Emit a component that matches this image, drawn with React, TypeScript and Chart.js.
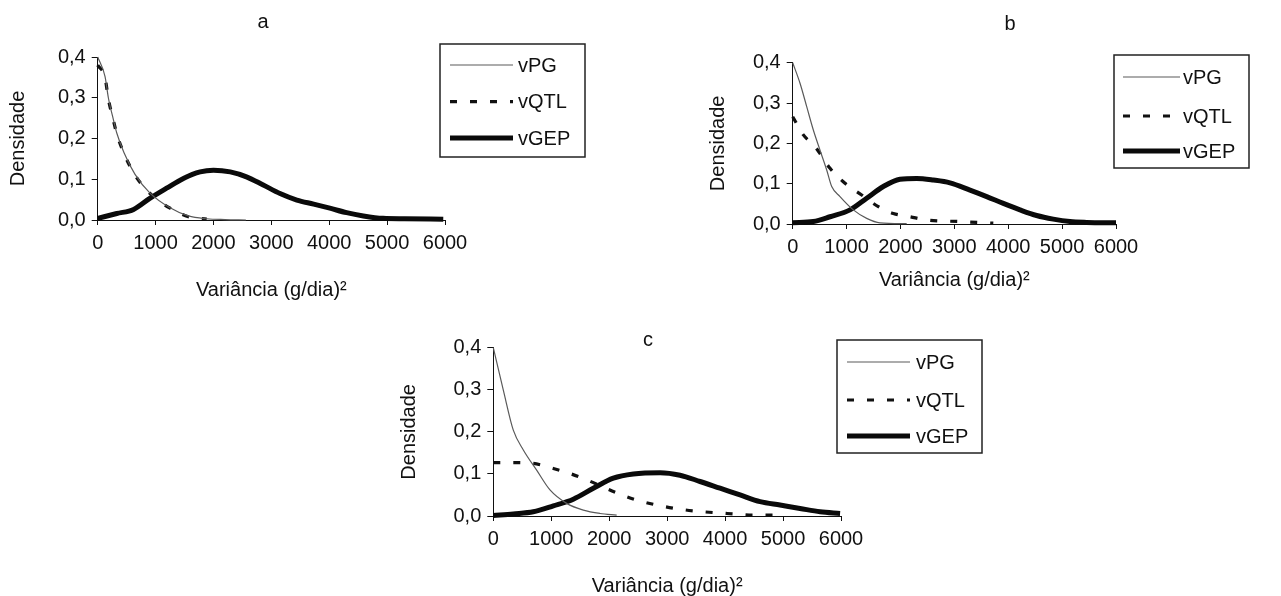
import { useEffect, useRef } from "react";
import { Chart, registerables } from "chart.js";

Chart.register(...registerables);

const FONT = "'Liberation Sans', Arial, Helvetica, sans-serif";

// ---------- texts ----------
const SERIES_LABELS = ["vPG", "vQTL", "vGEP"];
const X_TICK_LABELS = ["0", "1000", "2000", "3000", "4000", "5000", "6000"];
const Y_TICK_LABELS = ["0,0", "0,1", "0,2", "0,3", "0,4"];
const PANEL_LETTERS = ["a", "b", "c"];
const X_TITLE = "Variância (g/dia)²";
const Y_TITLE = "Densidade";

// ---------- panel a ----------
const A_PG_X = [0, 127, 184, 270, 328, 455, 645, 904, 1250, 1566, 1883, 2200, 2560];
const A_PG_Y = [0.4, 0.352, 0.3, 0.247, 0.214, 0.165, 0.112, 0.066, 0.03, 0.01, 0.003, 0.001, 0.0];
const A_QTL_X = [0, 127, 184, 270, 328, 455, 645, 904, 1250, 1566, 1883];
const A_QTL_Y = [0.38, 0.349, 0.297, 0.245, 0.212, 0.163, 0.11, 0.065, 0.029, 0.008, 0.002];
const A_GEP_X = [0, 330, 620, 900, 1190, 1480, 1770, 2000, 2290, 2570, 2860, 3150, 3440, 3730, 4010, 4300, 4590, 4930, 5300, 5970];
const A_GEP_Y = [0.004, 0.016, 0.026, 0.053, 0.078, 0.102, 0.118, 0.122, 0.118, 0.106, 0.086, 0.065, 0.049, 0.039, 0.029, 0.018, 0.01, 0.004, 0.003, 0.002];

// ---------- panel b ----------
const B_PG_X = [0, 136, 260, 383, 507, 631, 724, 878, 1125, 1373, 1620, 2115];
const B_PG_Y = [0.4, 0.349, 0.291, 0.233, 0.183, 0.134, 0.093, 0.068, 0.035, 0.014, 0.003, 0.001];
const B_QTL_X = [0, 198, 414, 693, 971, 1280, 1589, 1868, 2177, 2486, 3105, 3723];
const B_QTL_Y = [0.266, 0.221, 0.192, 0.138, 0.101, 0.072, 0.043, 0.026, 0.018, 0.01, 0.006, 0.002];
const B_GEP_X = [0, 383, 693, 1064, 1373, 1682, 1991, 2300, 2610, 2919, 3290, 3600, 3909, 4218, 4527, 4836, 5145, 5455, 6000];
const B_GEP_Y = [0.003, 0.006, 0.018, 0.035, 0.064, 0.093, 0.111, 0.113, 0.109, 0.102, 0.084, 0.068, 0.051, 0.035, 0.021, 0.012, 0.006, 0.004, 0.003];

// ---------- panel c ----------
const C_PG_X = [0, 173, 345, 518, 748, 978, 1266, 1553, 1841, 2129];
const C_PG_Y = [0.4, 0.299, 0.204, 0.157, 0.109, 0.062, 0.03, 0.014, 0.006, 0.002];
const C_QTL_X = [0, 345, 690, 1036, 1323, 1611, 2129, 2474, 2820, 3222, 3625, 4028, 4488, 4948];
const C_QTL_Y = [0.127, 0.127, 0.125, 0.113, 0.101, 0.086, 0.055, 0.038, 0.026, 0.016, 0.01, 0.006, 0.002, 0.002];
const C_GEP_X = [0, 345, 690, 1036, 1381, 1726, 2071, 2417, 2877, 3222, 3567, 3912, 4258, 4603, 4948, 5293, 5639, 5984];
const C_GEP_Y = [0.001, 0.005, 0.01, 0.024, 0.04, 0.066, 0.09, 0.1, 0.103, 0.097, 0.082, 0.066, 0.05, 0.034, 0.026, 0.018, 0.01, 0.006];

const PANEL_SERIES = [
  [[A_PG_X, A_PG_Y], [A_QTL_X, A_QTL_Y], [A_GEP_X, A_GEP_Y]],
  [[B_PG_X, B_PG_Y], [B_QTL_X, B_QTL_Y], [B_GEP_X, B_GEP_Y]],
  [[C_PG_X, C_PG_Y], [C_QTL_X, C_QTL_Y], [C_GEP_X, C_GEP_Y]],
];

// ---------- styles ----------
const SERIES_STYLES = [
  { color: "#5a5a5a", width: 1.2, dash: [] as number[] },
  { color: "#111111", width: 3.2, dash: [7, 13] },
  { color: "#0a0a0a", width: 5, dash: [] as number[] },
];

// ---------- layout (page pixels) ----------
const LAYOUTS = [
  {
    canvas: { x: 0, y: 0, w: 640, h: 320 },
    area: { l: 97.7, t: 57, r: 445, b: 220 },
    yTitleX: 18.3, xTitleY: 290,
    letter: { x: 263, y: 22 },
    box: { x: 440, y: 44, w: 145, h: 113 }, rows: [21, 57.7, 94], lineStart: 10, lineEnd: 73, textX: 78,
  },
  {
    canvas: { x: 640, y: 0, w: 641, h: 320 },
    area: { l: 792.7, t: 62.7, r: 1116, b: 224 },
    yTitleX: 718, xTitleY: 280,
    letter: { x: 1010, y: 24 },
    box: { x: 1114, y: 55, w: 135, h: 113 }, rows: [22, 61, 96], lineStart: 9, lineEnd: 66, textX: 69,
  },
  {
    canvas: { x: 300, y: 320, w: 720, h: 280 },
    area: { l: 493.3, t: 347.7, r: 841, b: 516 },
    yTitleX: 409, xTitleY: 586.7,
    letter: { x: 648, y: 340 },
    box: { x: 837, y: 340, w: 145, h: 113 }, rows: [22, 60, 96], lineStart: 10, lineEnd: 73, textX: 79,
  },
];

type Layout = (typeof LAYOUTS)[number];

function Panel({ index }: { index: number }) {
  const ref = useRef<HTMLCanvasElement | null>(null);
  const L: Layout = LAYOUTS[index];

  useEffect(() => {
    if (!ref.current) return;
    const cx = L.canvas.x;
    const cy = L.canvas.y;
    const lineH = 24;
    const xAxisH = L.xTitleY - L.area.b + lineH / 2;
    const yAxisW = L.area.l - cx;

    const datasets = PANEL_SERIES[index].map(([xs, ys], i) => ({
      label: SERIES_LABELS[i],
      data: xs.map((x, k) => ({ x, y: ys[k] })),
      borderColor: SERIES_STYLES[i].color,
      borderWidth: SERIES_STYLES[i].width,
      borderDash: SERIES_STYLES[i].dash,
      pointRadius: 0,
      fill: false,
      cubicInterpolationMode: "monotone" as const,
      clip: 8,
      borderCapStyle: "butt" as const,
    }));

    const decor = {
      id: "panelDecor",
      afterDraw(chart: Chart) {
        const ctx = chart.ctx;
        ctx.save();
        ctx.font = `20px ${FONT}`;
        ctx.fillStyle = "#111";
        ctx.textAlign = "center";
        ctx.textBaseline = "middle";
        ctx.fillText(PANEL_LETTERS[index], L.letter.x - cx, L.letter.y - cy);
        const bx = L.box.x - cx;
        const by = L.box.y - cy;
        ctx.strokeStyle = "#222";
        ctx.lineWidth = 1.5;
        ctx.strokeRect(bx, by, L.box.w, L.box.h);
        chart.data.datasets.forEach((ds: any, i: number) => {
          const y = by + L.rows[i];
          ctx.beginPath();
          ctx.setLineDash(ds.borderDash || []);
          ctx.lineWidth = ds.borderWidth;
          ctx.strokeStyle = ds.borderColor;
          ctx.moveTo(bx + L.lineStart, y);
          ctx.lineTo(bx + L.lineEnd, y);
          ctx.stroke();
          ctx.setLineDash([]);
          ctx.textAlign = "left";
          ctx.fillStyle = "#111";
          ctx.fillText(ds.label, bx + L.textX, y + 1);
        });
        ctx.restore();
      },
    };

    const chart = new Chart(ref.current, {
      type: "line",
      data: { datasets },
      plugins: [decor],
      options: {
        responsive: false,
        animation: false,
        events: [],
        layout: {
          padding: {
            left: 0,
            top: L.area.t - cy,
            right: cx + L.canvas.w - L.area.r,
            bottom: L.canvas.h - (L.area.b - cy) - xAxisH,
          },
        },
        plugins: {
          legend: { display: false },
          tooltip: { enabled: false },
          title: { display: false },
        },
        scales: {
          x: {
            type: "linear",
            min: 0,
            max: 6000,
            afterFit: (s: any) => { s.height = xAxisH; },
            ticks: {
              stepSize: 1000,
              autoSkip: false,
              maxRotation: 0,
              padding: 6,
              color: "#111",
              font: { size: 20, family: FONT },
              callback: (_v: any, i: number) => X_TICK_LABELS[i],
            },
            grid: { drawOnChartArea: false, drawTicks: true, tickLength: 5, color: "#111" },
            border: { display: true, color: "#111", width: 1 },
            title: {
              display: true,
              text: X_TITLE,
              color: "#111",
              font: { size: 20, family: FONT },
              padding: { top: 0, bottom: 0 },
            },
          },
          y: {
            type: "linear",
            min: 0,
            max: 0.4,
            afterFit: (s: any) => { s.width = yAxisW; },
            ticks: {
              stepSize: 0.1,
              autoSkip: false,
              padding: 6,
              color: "#111",
              font: { size: 20, family: FONT },
              callback: (_v: any, i: number) => Y_TICK_LABELS[i],
            },
            grid: { drawOnChartArea: false, drawTicks: true, tickLength: 6, color: "#111" },
            border: { display: true, color: "#111", width: 1 },
            title: {
              display: true,
              text: Y_TITLE,
              color: "#111",
              font: { size: 20, family: FONT },
              padding: { top: L.yTitleX - cx - lineH / 2, bottom: 0 },
            },
          },
        },
      },
    });
    return () => chart.destroy();
  }, [index]);

  return (
    <canvas
      ref={ref}
      width={L.canvas.w}
      height={L.canvas.h}
      style={{ position: "absolute", left: L.canvas.x, top: L.canvas.y, width: L.canvas.w, height: L.canvas.h }}
    />
  );
}

export default function App() {
  return (
    <div
      style={{
        position: "absolute",
        left: 0,
        top: 0,
        width: 1281,
        height: 596,
        overflow: "hidden",
        background: "#fff",
      }}
    >
      <Panel index={0} />
      <Panel index={1} />
      <Panel index={2} />
    </div>
  );
}
